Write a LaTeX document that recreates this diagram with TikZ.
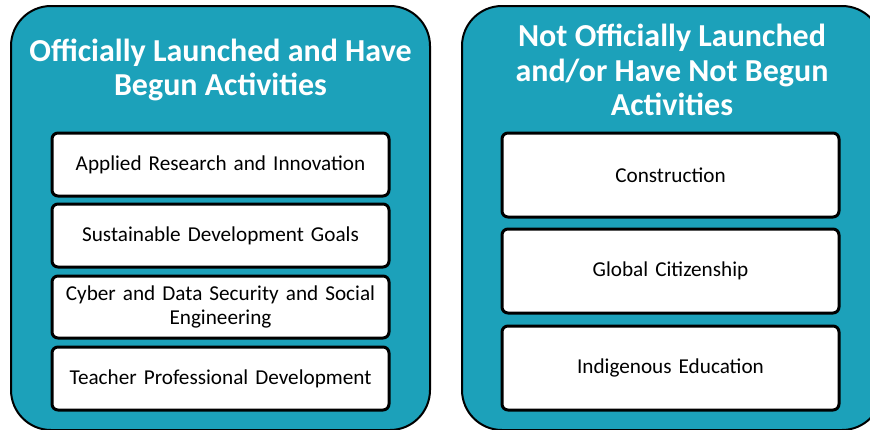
\documentclass[tikz,border=0pt]{standalone}
\usepackage{fontspec}
\setmainfont{Carlito}
\definecolor{teal1}{RGB}{28,161,186}
\tikzset{
  container/.style={fill=teal1, draw=black, line width=2pt, rounded corners=40pt},
  item/.style={fill=white, draw=black, line width=3pt, rounded corners=6pt},
  itemtext/.style={font=\fontsize{21.2}{24}\selectfont, align=center, text width=330pt, inner sep=0pt},
  titletext/.style={font=\fontsize{32}{34.5}\selectfont\bfseries, text=white, align=center, inner sep=0pt},
}
\begin{document}
\begin{tikzpicture}[x=1pt,y=-1pt]
\useasboundingbox (0,0) rectangle (870,429);
\clip (0,0) rectangle (870,429);
% containers
\draw[container] (11,6) rectangle (430,430);
\draw[container] (462,6) rectangle (882,430);
% titles
\node[titletext] (t1) at (220.5,70) {Officially Launched and Have\\Begun Activities};
\node[titletext] (t2) at (672,70) {Not Officially Launched\\and/or Have Not Begun\\Activities};
% left items
\draw[item] (52,133) rectangle (389,196);
\node[itemtext] (l1) at (220.5,164.5) {Applied Research and Innovation};
\draw[item] (52,204) rectangle (389,267);
\node[itemtext] (l2) at (220.5,235.5) {Sustainable Development Goals};
\draw[item] (52,276) rectangle (389,338);
\node[itemtext] (l3) at (220.5,307) {Cyber and Data Security and Social\\Engineering};
\draw[item] (52,347) rectangle (389,410);
\node[itemtext] (l4) at (220.5,378.5) {Teacher Professional Development};
% right items
\draw[item] (502,133) rectangle (839,217);
\node[itemtext] (r1) at (670.5,175) {Construction};
\draw[item] (502,229) rectangle (839,313);
\node[itemtext] (r2) at (670.5,271) {Global Citizenship};
\draw[item] (502,326) rectangle (839,410);
\node[itemtext] (r3) at (670.5,368) {Indigenous Education};
\end{tikzpicture}
\end{document}
